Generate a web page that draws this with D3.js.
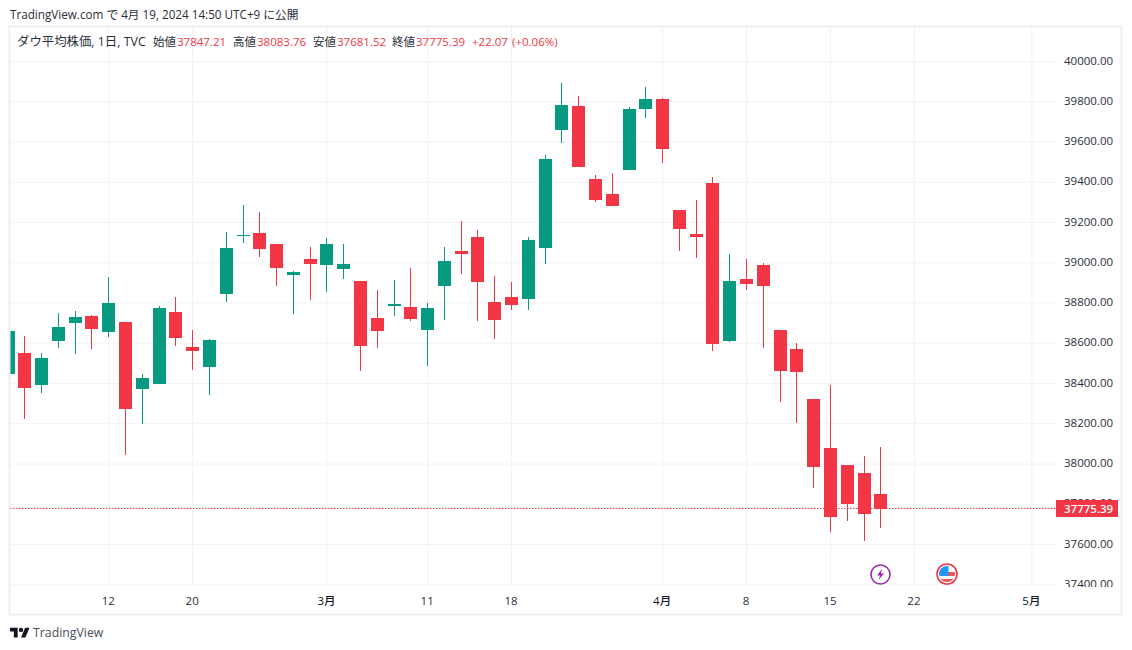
<!DOCTYPE html>
<html>
<head>
<meta charset="utf-8">
<script src="https://cdn.jsdelivr.net/npm/d3@7"></script>
<style>
  html, body { margin: 0; padding: 0; background: #fff; }
  svg { display: block; }
  text { font-family: "Open Sans", "Noto Sans CJK JP", sans-serif; fill: #2a2e39; }
</style>
</head>
<body>
<div id="chart-area"></div>
<script>
// candles, one entry per trading day, first one is cut by the pane edge
const opens = [38445, 38549, 38390, 38609, 38698, 38733, 38654, 38703, 38370, 38395, 38753, 38579, 38480, 38842, 39131, 39145, 39091, 38937, 39016, 38986, 38967, 38907, 38723, 38783, 38778, 38663, 38882, 39056, 39126, 38803, 38827, 38817, 39071, 39657, 39776, 39414, 39339, 39458, 39761, 39811, 39260, 39140, 39394, 38609, 38917, 38986, 38663, 38569, 38321, 38077, 37993, 37953, 37847.21];
const highs = [38658, 38634, 38549, 38748, 38758, 38738, 38927, 38703, 38445, 38783, 38827, 38663, 38619, 39150, 39285, 39250, 39091, 38957, 39076, 39121, 39091, 38907, 38862, 38912, 38971, 38798, 39076, 39205, 39160, 38932, 38902, 39126, 39533, 39891, 39826, 39434, 39444, 39771, 39871, 39816, 39260, 39309, 39424, 39041, 39016, 38996, 38663, 38599, 38321, 38390, 37993, 38038, 38083.76];
const lows = [38445, 38221, 38351, 38574, 38544, 38569, 38629, 38043, 38197, 38395, 38584, 38465, 38341, 38803, 39096, 39026, 38882, 38743, 38813, 38852, 38917, 38460, 38574, 38733, 38708, 38485, 38713, 38942, 38708, 38619, 38763, 38763, 38991, 39593, 39473, 39299, 39280, 39458, 39717, 39493, 39056, 39021, 38559, 38604, 38862, 38574, 38306, 38202, 37879, 37660, 37715, 37615, 37681.52];
const closes = [38658, 38375, 38524, 38678, 38728, 38668, 38798, 38271, 38425, 38773, 38624, 38559, 38614, 39071, 39135, 39066, 38971, 38952, 38991, 39091, 38991, 38584, 38658, 38793, 38718, 38773, 39006, 39041, 38902, 38713, 38788, 39111, 39513, 39781, 39473, 39309, 39280, 39761, 39811, 39563, 39165, 39126, 38594, 38907, 38892, 38882, 38460, 38455, 37983, 37734, 37799, 37749, 37775.39];

// time axis labels, index = candle number (runs on into the empty future bars)
const timeTickIndex = [6, 11, 19, 25, 30, 39, 44, 49, 54, 61];
const timeTickLabels = ['12', '20', '3月', '11', '18', '4月', '8', '15', '22', '5月'];
const monthLabels = ['3月', '4月', '5月'];

const priceTicks = [37400, 37600, 37800, 38000, 38200, 38400, 38600, 38800, 39000, 39200, 39400, 39600, 39800, 40000];
const lastPrice = 37775.39;

const legendParts = [
    { x: 17, text: 'ダウ平均株価, 1日, TVC', red: false, size: 12.4 },
    { x: 153, text: '始値', red: false, size: 11.5 },
    { x: 177, text: '37847.21', red: true, size: 11.5 },
    { x: 233, text: '高値', red: false, size: 11.5 },
    { x: 257, text: '38083.76', red: true, size: 11.5 },
    { x: 313, text: '安値', red: false, size: 11.5 },
    { x: 337, text: '37681.52', red: true, size: 11.5 },
    { x: 392, text: '終値', red: false, size: 11.5 },
    { x: 416, text: '37775.39', red: true, size: 11.5 },
    { x: 472, text: '+22.07', red: true, size: 11.5 },
    { x: 512, text: '(+0.06%)', red: true, size: 11.5 }
];

const candles = opens.map((o, i) => ({ i: i, o: o, h: highs[i], l: lows[i], c: closes[i] }));

const red = '#f23645', green = '#089981', gridColor = '#f1f2f5', frameColor = '#eeeff5';

// pane set up
const paneLeft = 10, paneRight = 1056, paneTop = 27, paneBottom = 586;

const svg = d3.select('#chart-area')
    .append('svg')
        .attr('width', 1132)
        .attr('height', 650);

svg.append('clipPath').attr('id', 'pane-clip')
    .append('rect')
        .attr('x', paneLeft).attr('y', paneTop)
        .attr('width', paneRight - paneLeft).attr('height', paneBottom - paneTop);

svg.append('clipPath').attr('id', 'price-clip')
    .append('rect')
        .attr('x', paneRight).attr('y', paneTop)
        .attr('width', 66).attr('height', paneBottom + 1 - paneTop);

// scales
const x = d3.scaleLinear().domain([0, 61]).range([7.52, 1031.4]);
const y = d3.scaleLinear().domain([37400, 40000]).range([584.3, 61]);

// grid, drawn with axes so the lines land on the same pixels as the ticks
const gridX = svg.append('g')
    .attr('transform', 'translate(0,' + paneBottom + ')')
    .call(d3.axisBottom(x).tickValues(timeTickIndex).tickSize(-(paneBottom - paneTop)).tickFormat(''));
const gridY = svg.append('g')
    .attr('transform', 'translate(' + paneLeft + ',0)')
    .call(d3.axisRight(y).tickValues(priceTicks).tickSize(paneRight - paneLeft).tickFormat(''));
[gridX, gridY].forEach(g => {
    g.select('.domain').remove();
    g.selectAll('line').attr('stroke', gridColor);
});

// candles
const plot = svg.append('g').attr('clip-path', 'url(#pane-clip)');
const bars = plot.selectAll('g.candle').data(candles).join('g')
    .attr('class', 'candle')
    .attr('fill', d => d.c >= d.o ? green : red);

bars.append('rect')
    .attr('x', d => Math.round(x(d.i)))
    .attr('width', 1)
    .attr('y', d => Math.round(y(d.h)))
    .attr('height', d => Math.round(y(d.l)) - Math.round(y(d.h)));

bars.append('rect')
    .attr('x', d => Math.round(x(d.i)) - 6)
    .attr('width', 13)
    .attr('y', d => Math.round(y(Math.max(d.o, d.c))))
    .attr('height', d => Math.max(1, Math.round(y(Math.min(d.o, d.c))) - Math.round(y(Math.max(d.o, d.c)))));

// last price line
svg.append('line')
    .attr('x1', paneLeft).attr('x2', paneRight)
    .attr('y1', Math.floor(y(lastPrice)) + 0.5).attr('y2', Math.floor(y(lastPrice)) + 0.5)
    .style('stroke', red)
    .style('stroke-width', 1.2)
    .style('stroke-dasharray', '1.5,1.5');

// price axis, clip sits on the outer group because the axis group is translated
const priceAxis = svg.append('g')
    .attr('clip-path', 'url(#price-clip)')
    .append('g')
    .attr('transform', 'translate(' + paneRight + ',-1)')
    .call(d3.axisRight(y).tickValues(priceTicks).tickSize(0).tickPadding(8).tickFormat(d => d.toFixed(2)));
priceAxis.select('.domain').remove();
priceAxis.attr('font-family', null).attr('font-size', null);
priceAxis.selectAll('text')
    .style('font-size', '11.5px')
    .attr('dy', '0.35em');

svg.append('rect')
    .attr('x', paneRight).attr('y', Math.round(y(lastPrice)) - 9)
    .attr('width', 62).attr('height', 17)
    .attr('fill', red);
svg.append('text')
    .attr('x', paneRight + 8).attr('y', Math.round(y(lastPrice)))
    .attr('dy', '0.35em')
    .style('font-size', '11.5px')
    .style('font-weight', 600)
    .style('fill', '#fff')
    .text(lastPrice.toFixed(2));

// time axis
const timeAxis = svg.append('g')
    .attr('transform', 'translate(-0.5,' + paneBottom + ')')
    .call(d3.axisBottom(x).tickValues(timeTickIndex).tickSize(0).tickPadding(10.5)
        .tickFormat((d, i) => timeTickLabels[i]));
timeAxis.select('.domain').remove();
timeAxis.attr('font-family', null).attr('font-size', null);
timeAxis.selectAll('text')
    .style('font-size', '11.5px')
    .style('fill', (d, i) => monthLabels.includes(timeTickLabels[i]) ? '#131722' : '#2a2e39')
    .style('font-weight', (d, i) => monthLabels.includes(timeTickLabels[i]) ? 500 : 400);

// frame
svg.append('rect')
    .attr('x', paneLeft - 0.5).attr('y', paneTop - 0.5)
    .attr('width', 1122 - paneLeft).attr('height', 615 - paneTop)
    .attr('fill', 'none')
    .attr('stroke', frameColor)
    .attr('stroke-width', 2);

// header + legend
svg.append('text')
    .attr('x', 10).attr('y', 19)
    .style('font-size', '11.7px')
    .text('TradingView.com で 4月 19, 2024 14:50 UTC+9 に公開');

svg.append('g').selectAll('text').data(legendParts).join('text')
    .attr('x', d => d.x).attr('y', 46)
    .style('font-size', d => d.size + 'px')
    .style('fill', d => d.red ? red : '#2a2e39')
    .text(d => d.text);

// event markers under the last bars
const bolt = svg.append('g').attr('transform', 'translate(880.5,574.5)');
bolt.append('circle').attr('r', 9.5).attr('fill', '#fff').attr('stroke', '#9c27b0').attr('stroke-width', 1.6);
bolt.append('path').attr('d', 'M1.5,-5.5 L-3.5,1 L-0.5,1 L-2,5.5 L3.5,-1 L0.5,-1 Z').attr('fill', '#9c27b0');

const flag = svg.append('g').attr('transform', 'translate(947,574)');
flag.append('circle').attr('r', 10).attr('fill', '#fff').attr('stroke', '#f23645').attr('stroke-width', 1.6);
flag.append('clipPath').attr('id', 'flag-clip').append('circle').attr('r', 8);
const flagBody = flag.append('g').attr('clip-path', 'url(#flag-clip)');
flagBody.append('rect').attr('x', -8).attr('y', -8).attr('width', 16).attr('height', 16).attr('fill', '#fff');
flagBody.append('rect').attr('x', 0).attr('y', -2).attr('width', 8).attr('height', 4).attr('fill', '#ef5350');
flagBody.append('rect').attr('x', -8).attr('y', 5).attr('width', 16).attr('height', 3).attr('fill', '#ef5350');
flagBody.append('rect').attr('x', -8).attr('y', -8).attr('width', 9.5).attr('height', 10).attr('fill', '#2196f3');

// TradingView mark
const logo = svg.append('g').attr('transform', 'translate(10,625.5) scale(0.55)').style('fill', '#131722');
logo.append('path').attr('d', 'M14 22H7V11H0V4h14v18zM28 22h-8l7.5-18h8L28 22z').attr('fill', '#131722');
logo.append('circle').attr('cx', 20).attr('cy', 8).attr('r', 4).attr('fill', '#131722');
svg.append('text')
    .attr('x', 33).attr('y', 637)
    .style('font-size', '12.3px')
    .style('fill', '#4a4e59')
    .text('TradingView');
</script>
</body>
</html>
